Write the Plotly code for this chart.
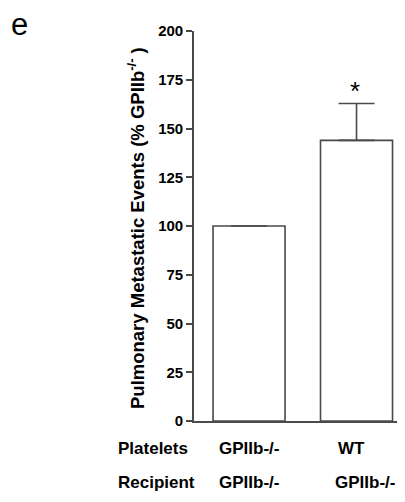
import plotly.graph_objects as go

# Data
groups = ["GPIIb-/- → GPIIb-/-", "WT → GPIIb-/-"]
values = [100.0, 143.9]
errors_up = [float("nan"), 18.9]
platelets_labels = ["GPIIb-/-", "WT"]
recipient_labels = ["GPIIb-/-", "GPIIb-/-"]
y_ticks = [0, 25, 50, 75, 100, 125, 150, 175, 200]

FONT = "Liberation Sans, Arial, sans-serif"
LINE = "#4a4a4a"

OFF = 8  # page body margin
W, H = 405 - OFF, 502 - OFF
ML, MR, MT = 194 - OFF, 0, 31 - OFF
PH = 390
MB = H - MT - PH
PW = W - ML - MR

xpos = [0, 1]

fig = go.Figure()
fig.add_trace(go.Bar(
    x=xpos, y=values, width=0.67,
    marker=dict(color="white", line=dict(color=LINE, width=1.6)),
    error_y=dict(type="data", array=errors_up, arrayminus=[0, 0], symmetric=False,
                 color=LINE, thickness=1.6, width=18),
    hoverinfo="skip",
))

def px_x(px):
    return (px - OFF - ML) / PW

def px_y(py):
    return 1 - (py - OFF - MT) / PH

BOLD = dict(family=FONT, color="black", weight="bold")

annotations = []
# asterisk
annotations.append(dict(x=1, y=px_y(91), xref="x", yref="paper",
                        text="*", showarrow=False, xshift=-2, yanchor="middle",
                        font=dict(family=FONT, size=26, color="black")))
# panel label
annotations.append(dict(x=px_x(19), y=px_y(24), xref="paper", yref="paper",
                        text="e", showarrow=False, xanchor="center", yanchor="middle",
                        font=dict(family=FONT, size=31, color="black")))
# y title
annotations.append(dict(x=px_x(136), y=px_y(228), xref="paper", yref="paper",
                        text="Pulmonary Metastatic Events (% GPIIb<sup>-/-</sup> )",
                        textangle=-90, showarrow=False, xanchor="center", yanchor="middle",
                        font=dict(size=18.5, **BOLD)))
# row labels
for txt, py in [("Platelets", 448), ("Recipient", 482)]:
    annotations.append(dict(x=px_x(116), y=px_y(py), xref="paper", yref="paper",
                            text=txt, showarrow=False, xanchor="left", yanchor="middle",
                            font=dict(size=17, **BOLD)))
plat_shift = [0, -5]
rec_shift = [0, 8]
for i, xp in enumerate(xpos):
    annotations.append(dict(x=xp, y=px_y(448), xref="x", yref="paper",
                            text=platelets_labels[i], showarrow=False, xshift=plat_shift[i],
                            xanchor="center", yanchor="middle",
                            font=dict(size=17, **BOLD)))
    annotations.append(dict(x=xp, y=px_y(482), xref="x", yref="paper",
                            text=recipient_labels[i], showarrow=False, xshift=rec_shift[i],
                            xanchor="center", yanchor="middle",
                            font=dict(size=17, **BOLD)))

fig.update_layout(
    width=W, height=H,
    margin=dict(l=ML, r=MR, t=MT, b=MB, pad=0),
    paper_bgcolor="white", plot_bgcolor="white",
    showlegend=False,
    annotations=annotations,
    xaxis=dict(range=[-0.512, 1.451], showline=True, linecolor=LINE, linewidth=1.6,
               showticklabels=False, ticks="", showgrid=False, zeroline=False, fixedrange=True),
    yaxis=dict(range=[0, 200], showline=True, linecolor=LINE, linewidth=1.6,
               tickvals=y_ticks, ticktext=[str(v) for v in y_ticks],
               ticks="outside", ticklen=6, tickwidth=1.6, tickcolor=LINE,
               tickfont=dict(size=15, **BOLD),
               showgrid=False, zeroline=False, fixedrange=True),
)

fig.write_html("out.html")
